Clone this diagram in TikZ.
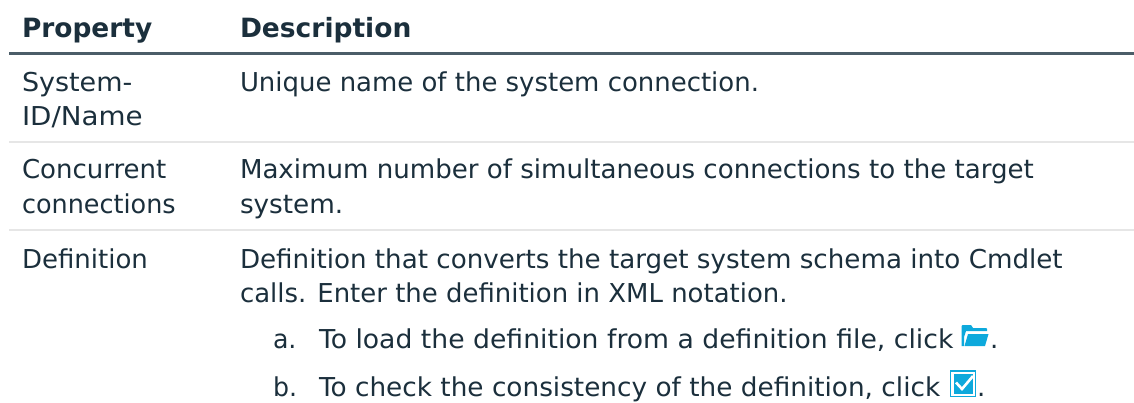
\documentclass[tikz,border=0pt]{standalone}
\usepackage{fontspec}
\setmainfont{DejaVu Sans}
\definecolor{ink}{HTML}{1B2F3C}
\definecolor{headrule}{HTML}{4B5D68}
\definecolor{rowrule}{HTML}{E6E6E6}
\definecolor{iconblue}{HTML}{0DA9DC}
\newcommand{\sx}[2]{\scalebox{#1}[1]{#2}}
\tikzset{
  txt/.style={anchor=base west,inner sep=0pt,outer sep=0pt,text=ink,font=\fontsize{26}{30}\selectfont},
  head/.style={txt,font=\fontsize{26.5}{30}\selectfont\bfseries},
  hrule/.style={draw=headrule,line width=3pt},
  rrule/.style={draw=rowrule,line width=2pt}
}
\begin{document}
\begin{tikzpicture}[x=1pt,y=-1pt]
\useasboundingbox (0,0) rectangle (1134,403);
\fill[white] (0,0) rectangle (1134,403);
\coordinate (h0) at (9,53.5); \coordinate (h1) at (1134,53.5);
\coordinate (r0) at (9,142); \coordinate (r1) at (1134,142);
\coordinate (s0) at (9,230); \coordinate (s1) at (1134,230);
\draw[hrule] (h0) -- (h1);
\draw[rrule] (r0) -- (r1);
\draw[rrule] (s0) -- (s1);
\node[head] (hp) at (22,38) {\sx{0.997}{Property}};
\node[head] (hd) at (240,38) {Description};
\node[txt] (a1) at (22,92) {\sx{1.037}{System-}};
\node[txt] (a2) at (22,126) {\sx{1.067}{ID/Name}};
\node[txt] (b1) at (240,92) {\sx{0.998}{Unique name of the system connection.}};
\node[txt] (c1) at (22,179) {Concurrent};
\node[txt] (c2) at (22,214) {\sx{0.98}{connections}};
\node[txt] (d1) at (240,179) {\sx{1.003}{Maximum number of simultaneous connections to the target}};
\node[txt] (d2) at (240,214) {\sx{1.01}{system.}};
\node[txt] (e1) at (22,268) {Definition};
\node[txt] (f1) at (240,268) {\sx{1.006}{Definition that converts the target system schema into Cmdlet}};
\node[txt] (f2) at (240,302) {\sx{0.998}{calls. Enter the definition in XML notation.}};
\node[txt] (la) at (273,348) {\sx{0.97}{a.}};
\node[txt] (ta) at (319,348) {\sx{1.025}{To load the definition from a definition file, click}};
\node[txt] (pa) at (990,348) {.};
\node[txt] (lb) at (273,396) {\sx{0.97}{b.}};
\node[txt] (tb) at (319,396) {\sx{1.012}{To check the consistency of the definition, click}};
\node[txt] (pb) at (977,396) {.};
% folder icon
\fill[iconblue] (961.5,346) -- (961.5,326) -- (962.5,325) -- (971,325) -- (973,328) -- (986,328) -- (987,329) -- (987,331) -- (966,331) -- (964,337) -- (964,346) -- cycle;
\fill[iconblue] (964.5,346) -- (968,334) -- (988.5,334) -- (985,346) -- cycle;
% check icon
\draw[iconblue,line width=1.6pt,fill=white] (950.5,371) rectangle (975.5,396.5);
\fill[iconblue] (953.5,374) rectangle (972.5,393.5);
\draw[white,line width=2.6pt] (956,382.5) -- (962,389) -- (973,376);
\end{tikzpicture}
\end{document}
